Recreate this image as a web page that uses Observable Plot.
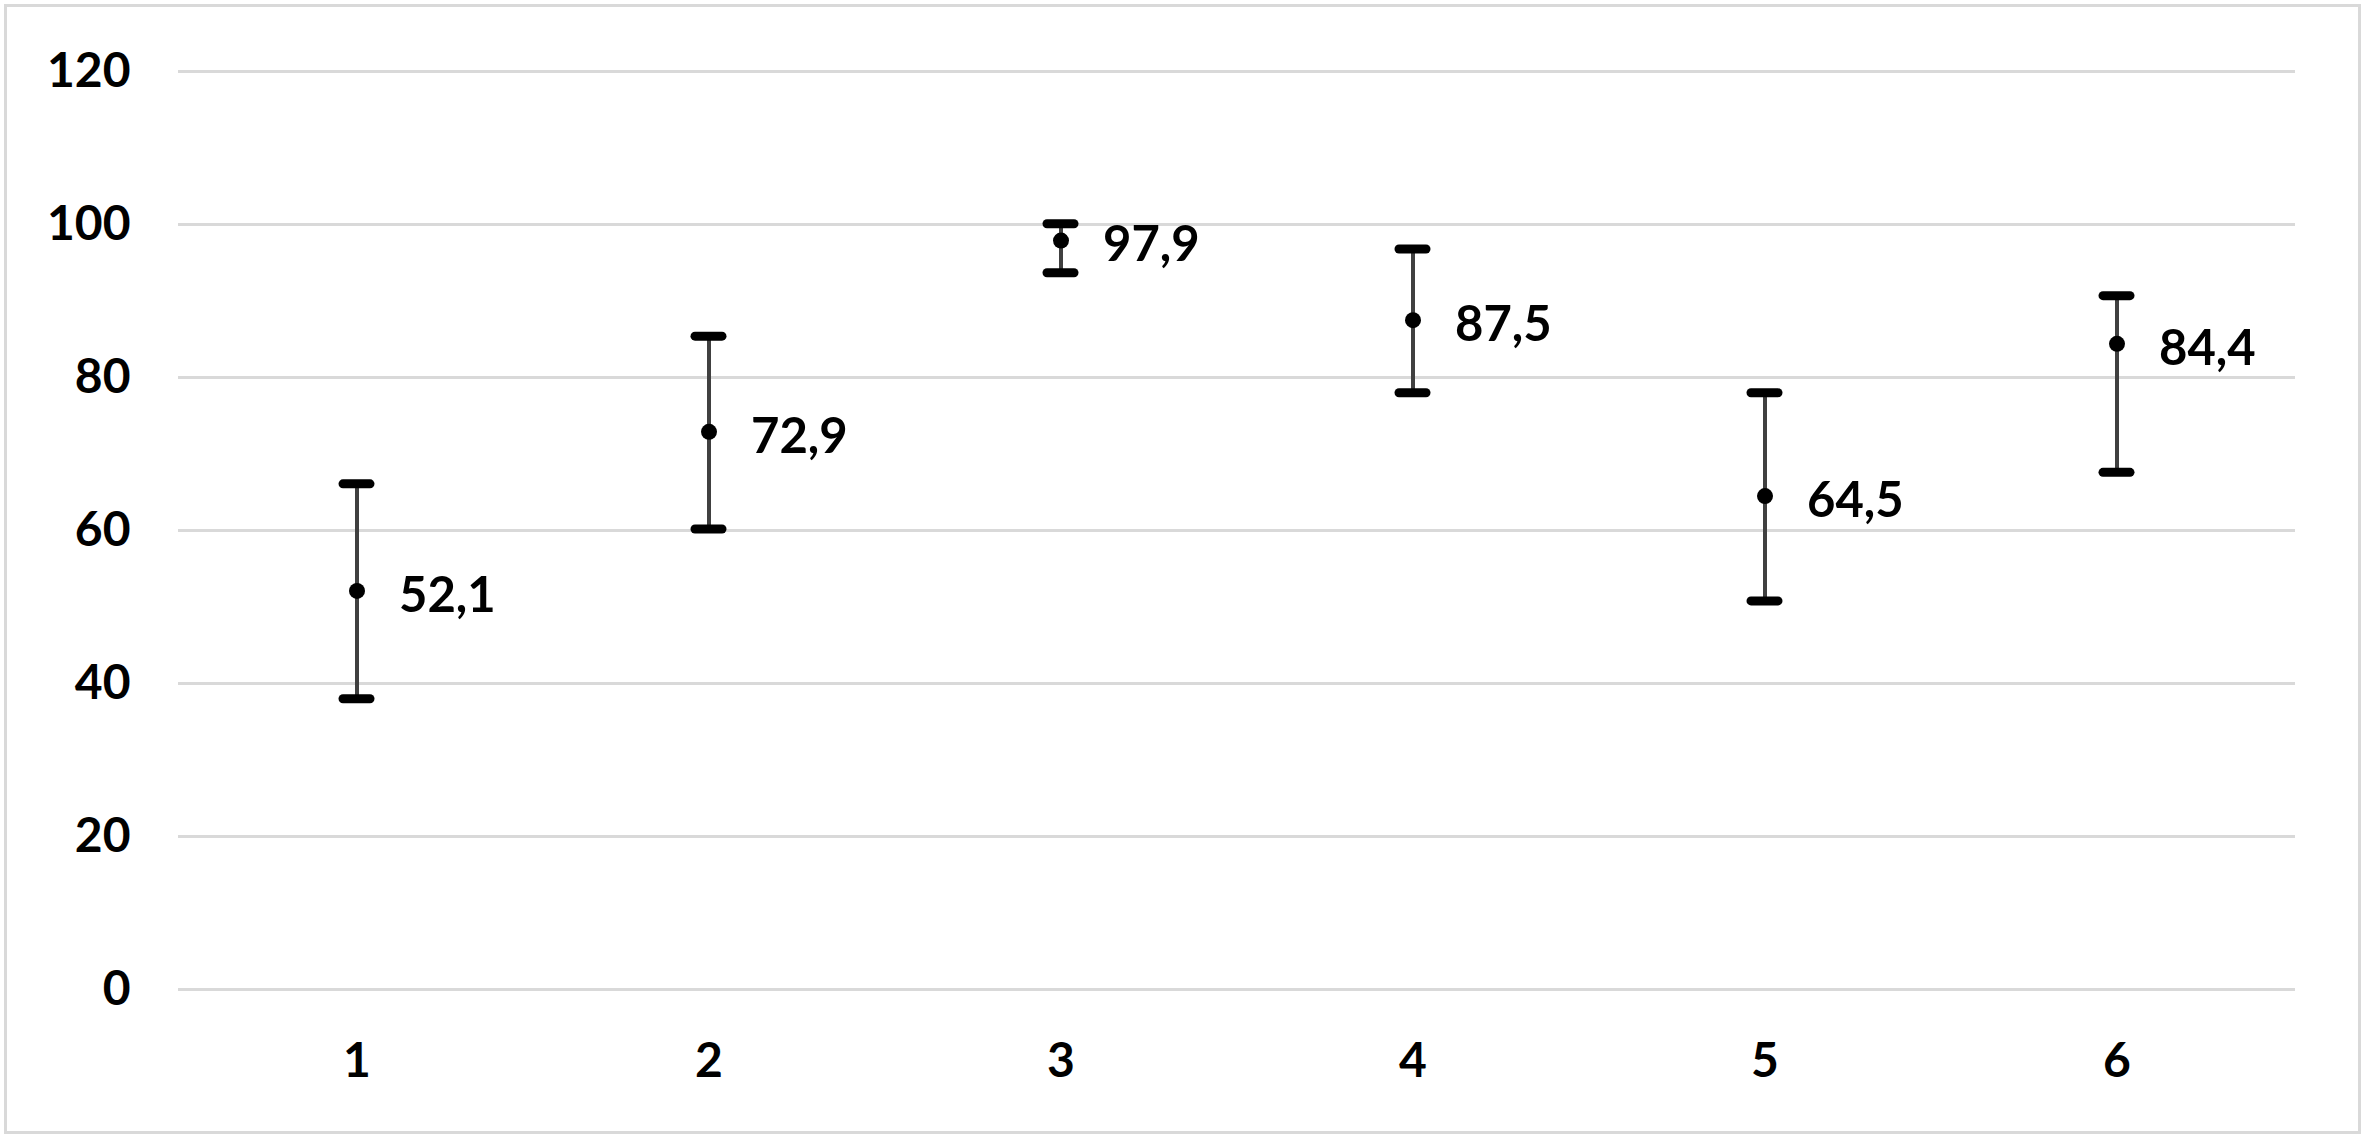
<!DOCTYPE html>
<html>
<head>
<meta charset="utf-8">
<script src="https://cdn.jsdelivr.net/npm/d3@7"></script>
<script src="https://cdn.jsdelivr.net/npm/@observablehq/plot@0.6"></script>
<style>
  html, body { margin: 0; padding: 0; background: #fff; }
  #frame { position: absolute; left: 4px; top: 4px; width: 2357px; height: 1130px; border: 3px solid #d9d9d9; box-sizing: border-box; }
  #chart { position: absolute; left: 0; top: 0; }
</style>
</head>
<body>
<div id="frame"></div>
<div id="chart"></div>
<script>
const categories = ["1", "2", "3", "4", "5", "6"];
const means = [52.1, 72.9, 97.9, 87.5, 64.5, 84.4];
const lower = [38.0, 60.2, 93.7, 78.0, 50.8, 67.6];
const upper = [66.1, 85.4, 100.1, 96.8, 78.0, 90.7];
const yTicks = [0, 20, 40, 60, 80, 100, 120];

const data = categories.map((c, i) => ({cat: c, mean: means[i], lo: lower[i], hi: upper[i], label: String(means[i]).replace(".", ",")}));

const chart = Plot.plot({
  width: 2367,
  height: 1140,
  marginLeft: 178,
  marginRight: 72,
  marginTop: 71,
  marginBottom: 151,
  style: {fontFamily: "Lato, 'Noto Sans', sans-serif", fontSize: "47px", fontWeight: "bold", color: "#000", background: "transparent"},
  x: {type: "band", domain: categories, paddingInner: 0.9235, paddingOuter: 0.46175},
  y: {domain: [0, 120]},
  marks: [
    Plot.gridY(yTicks, {stroke: "#d9d9d9", strokeOpacity: 1, strokeWidth: 3}),
    Plot.axisY({ticks: yTicks, tickSize: 0, tickPadding: 48, label: null, fontSize: 48, fontWeight: "bold", fill: "#000"}),
    Plot.axisX({tickSize: 0, tickPadding: 53, label: null, fontSize: 48, fontWeight: "bold", fill: "#000"}),
    Plot.ruleX(data, {x: "cat", y1: "lo", y2: "hi", stroke: "#404040", strokeWidth: 4}),
    Plot.tickY(data, {x: "cat", y: "hi", stroke: "#000", strokeWidth: 9, strokeLinecap: "round"}),
    Plot.tickY(data, {x: "cat", y: "lo", stroke: "#000", strokeWidth: 9, strokeLinecap: "round"}),
    Plot.dot(data, {x: "cat", y: "mean", r: 8, fill: "#000", stroke: null}),
    Plot.text(data, {x: "cat", y: "mean", text: "label", dx: 42, dy: 5, textAnchor: "start", fontSize: 49, fontWeight: "bold", fill: "#000"})
  ]
});
document.getElementById("chart").appendChild(chart);
</script>
</body>
</html>
